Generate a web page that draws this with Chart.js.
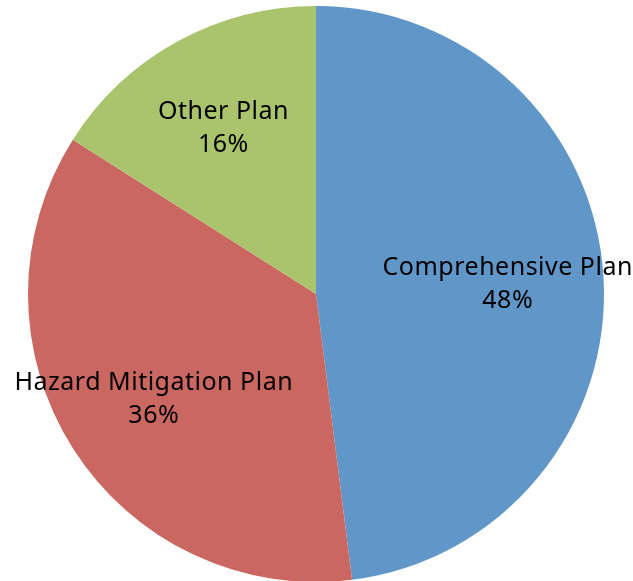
<!DOCTYPE html>
<html>
<head>
<meta charset="utf-8">
<script src="https://cdn.jsdelivr.net/npm/chart.js@4"></script>
<style>
  html, body { margin: 0; padding: 0; background: #ffffff; overflow: hidden; }
  #plan-chart { display: block; }
</style>
</head>
<body>
<canvas id="plan-chart" width="633" height="600"></canvas>
<script>
// Plan types and their shares (percent)
const planLabels = ['Comprehensive Plan', 'Hazard Mitigation Plan', 'Other Plan'];
const planShares = [48, 36, 16];
const planColors = ['#6196c9', '#cb6761', '#aac46d'];

// Draws "name / value%" inside each slice, along its middle angle
const sliceLabels = {
  id: 'sliceLabels',
  afterDatasetsDraw(c) {
    const ctx = c.ctx;
    const meta = c.getDatasetMeta(0);
    ctx.save();
    ctx.fillStyle = '#000000';
    ctx.font = '25px "Noto Sans", sans-serif';
    ctx.letterSpacing = '0.5px';
    ctx.textAlign = 'center';
    ctx.textBaseline = 'middle';
    meta.data.forEach((arc, i) => {
      const mid = (arc.startAngle + arc.endAngle) / 2;
      const r = arc.outerRadius * 0.667;
      const x = arc.x + Math.cos(mid) * r;
      const y = arc.y + Math.sin(mid) * r;
      ctx.fillText(planLabels[i], x, y - 14);
      ctx.fillText(planShares[i] + '%', x, y + 19);
    });
    ctx.restore();
  },
};

new Chart(document.getElementById('plan-chart'), {
  type: 'pie',
  data: {
    labels: planLabels,
    datasets: [{
      data: planShares,
      backgroundColor: planColors,
      borderWidth: 0,
    }],
  },
  options: {
    responsive: false,
    animation: false,
    layout: {
      padding: { left: 28, right: 29, top: 6, bottom: 18 },
    },
    plugins: {
      legend: { display: false },
      tooltip: { enabled: false },
    },
  },
  plugins: [sliceLabels],
});
</script>
</body>
</html>
